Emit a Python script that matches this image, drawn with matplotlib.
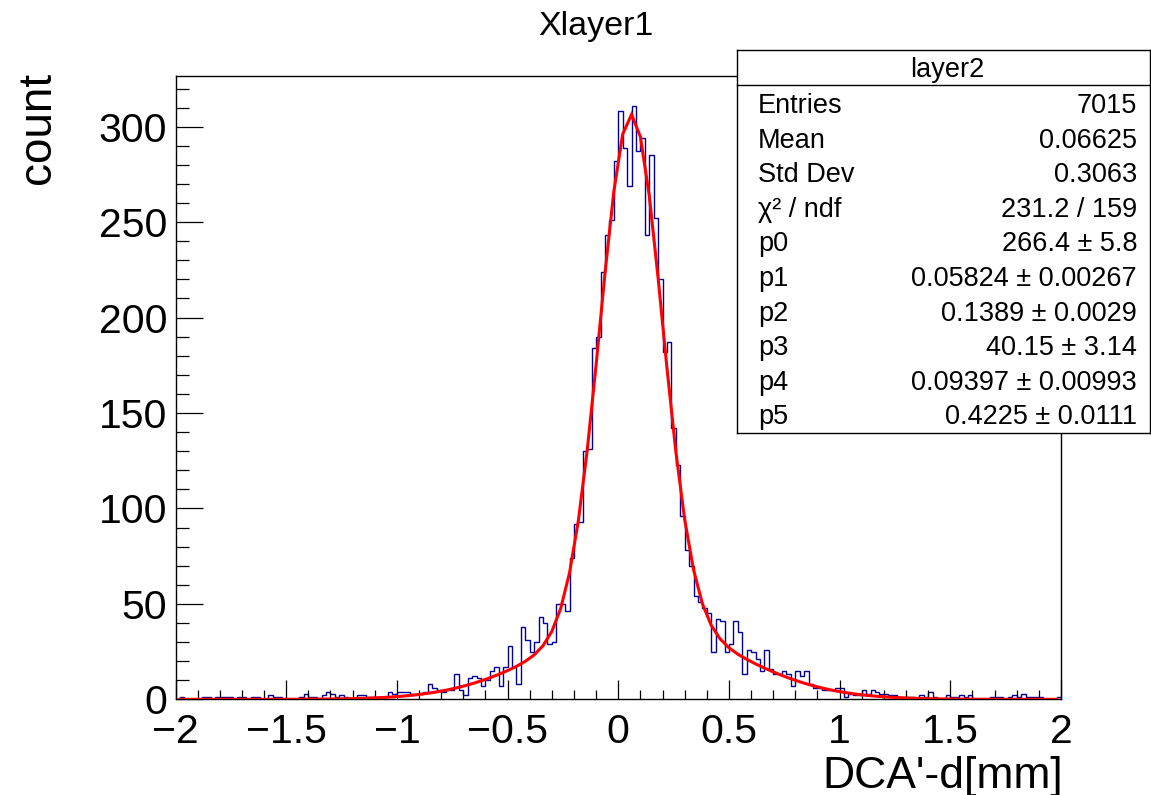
import numpy as np
import matplotlib
matplotlib.use('Agg')
import matplotlib.pyplot as plt
from matplotlib.ticker import MultipleLocator, FuncFormatter
from matplotlib.lines import Line2D

plt.rcParams['font.family'] = ['Liberation Sans', 'DejaVu Sans']

# ---------------- data ----------------
x_low, x_high, n_bins = -2.0, 2.0, 200

counts_left_tail = [0, 1, 0, 0, 0, 0, 1, 1, 0, 1,
                    1, 1, 1, 0, 1, 1, 0, 1, 1, 0,
                    0, 2, 1, 1, 0, 0, 0, 0, 1, 3,
                    1, 1, 0, 2, 4, 3, 1, 2, 1, 0,
                    0, 2, 2, 1, 1, 1, 1, 1, 4, 3,
                    4]
counts_left = [4, 4, 3, 3, 3, 4, 8, 6, 5, 4,
               5, 5, 13, 5, 2, 11, 12, 11, 7, 10,
               15, 17, 7, 17, 28, 17, 8, 38, 31, 25,
               30, 43, 40, 29, 30]
counts_core = [50, 50, 46, 74, 92, 93, 130, 131, 184, 190,
               224, 243, 251, 282, 308, 289, 269, 311, 287, 294,
               243, 285, 252, 220, 182, 187, 142, 123, 96, 78,
               70, 54, 51, 48, 45, 25, 42, 41, 25, 29,
               41, 35]
counts_right = [13, 26, 25, 21, 15, 26, 16, 13, 13, 15,
                13, 7, 15, 12, 15, 8, 6, 6, 5, 5,
                5, 6, 6, 1, 3, 2, 2, 5, 3, 5,
                4, 3, 3]
counts_right_tail = [2, 2, 1, 1, 1, 1, 0, 2, 1, 4,
                     1, 0, 0, 2, 1, 1, 2, 1, 2, 0,
                     0, 0, 0, 1, 1, 1, 0, 1, 2, 1,
                     3, 1, 1, 1, 1, 0, 0, 0, 1]
counts = np.array(counts_left_tail + counts_left + counts_core
                  + counts_right + counts_right_tail, dtype=float)

# double-gaussian fit parameters (from the stats box)
par_names = ['p0', 'p1', 'p2', 'p3', 'p4', 'p5']
par_values = [266.4, 0.05824, 0.1389, 40.15, 0.09397, 0.4225]
par_value_text = ['266.4', '0.05824', '0.1389', '40.15', '0.09397', '0.4225']
par_error_text = ['5.8', '0.00267', '0.0029', '3.14', '0.00993', '0.0111']
fit_x_start, fit_x_stop, fit_step = -1.98, 1.98, 0.04

stat_names = ['Entries', 'Mean', 'Std Dev', 'χ² / ndf']
stat_values = ['7015', '0.06625', '0.3063', '231.2 / 159']

title_text = 'Xlayer1'
stats_title = 'layer2'
x_title = "DCA'-d[mm]"
y_title = 'count'

# ---------------- figure ----------------
W, H = 1151, 795
fig = plt.figure(figsize=(W / 100, H / 100), dpi=100, facecolor='white')


def fx(px):
    return px / W


def fy(py):
    return 1 - py / H


ax_l, ax_r, ax_t, ax_b = 175.5, 1061.0, 76.0, 699.3
ax = fig.add_axes([fx(ax_l), fy(ax_b), fx(ax_r - ax_l), (ax_b - ax_t) / H])

edges = np.linspace(x_low, x_high, n_bins + 1)
ax.stairs(counts, edges, color='#000099', lw=1.0, baseline=0)


def fitfunc(x, p):
    return (p[0] * np.exp(-0.5 * ((x - p[1]) / p[2]) ** 2)
            + p[3] * np.exp(-0.5 * ((x - p[4]) / p[5]) ** 2))


xf = np.arange(fit_x_start, fit_x_stop + 1e-9, fit_step)
ax.plot(xf, fitfunc(xf, par_values), color='#ff0000', lw=2.2,
        solid_joinstyle='miter', zorder=5)

ax.set_xlim(x_low, x_high)
ax.set_ylim(0, 1.05 * counts.max())

ax.xaxis.set_major_locator(MultipleLocator(0.5))
ax.xaxis.set_minor_locator(MultipleLocator(0.1))
ax.yaxis.set_major_locator(MultipleLocator(50))
ax.yaxis.set_minor_locator(MultipleLocator(10))
fmt = FuncFormatter(lambda v, pos: f'{v:g}'.replace('-', '\u2212'))
ax.xaxis.set_major_formatter(fmt)
ax.yaxis.set_major_formatter(fmt)

ax.tick_params(axis='both', which='both', direction='in', top=False, right=False,
               width=0.9, color='black')
ax.tick_params(axis='x', which='major', length=13.5, pad=10, labelsize=29.5)
ax.tick_params(axis='x', which='minor', length=6.7)
ax.tick_params(axis='y', which='major', length=19.2, pad=6, labelsize=29.5)
ax.tick_params(axis='y', which='minor', length=9.6)
for s in ax.spines.values():
    s.set_linewidth(1.0)

# titles
fig.text(fx(596), fy(35), title_text, ha='center', va='baseline', fontsize=24.5)
fig.text(fx(1063), fy(788), x_title, ha='right', va='baseline', fontsize=32)
fig.text(fx(50), fy(72), y_title, ha='right', va='baseline', fontsize=33,
         rotation=90, rotation_mode='anchor')

# stats box
bx_l, bx_r, bx_t, bx_b = 737, 1150, 50, 433
sb = fig.add_axes([fx(bx_l), fy(bx_b), fx(bx_r - bx_l), (bx_b - bx_t) / H], zorder=10)
sb.set_facecolor('white')
sb.set_xticks([])
sb.set_yticks([])
for s in sb.spines.values():
    s.set_linewidth(1.0)
sep_y = 85
fig.add_artist(Line2D([fx(bx_l), fx(bx_r)], [fy(sep_y), fy(sep_y)],
                      transform=fig.transFigure, color='black', lw=1.0, zorder=11))
fig.text(fx(947), fy(77), stats_title, ha='center', va='baseline', fontsize=19.5, zorder=12)

row_labels = stat_names + par_names
row_values = stat_values + [f'{v} ± {e}' for v, e in zip(par_value_text, par_error_text)]
for k, (lab, val) in enumerate(zip(row_labels, row_values)):
    base = 113 + 34.6 * k
    fig.text(fx(758), fy(base), lab, ha='left', va='baseline', fontsize=19.5, zorder=12)
    fig.text(fx(1137), fy(base), val, ha='right', va='baseline', fontsize=19.5, zorder=12)

fig.savefig('out.png', dpi=100, facecolor='white')
